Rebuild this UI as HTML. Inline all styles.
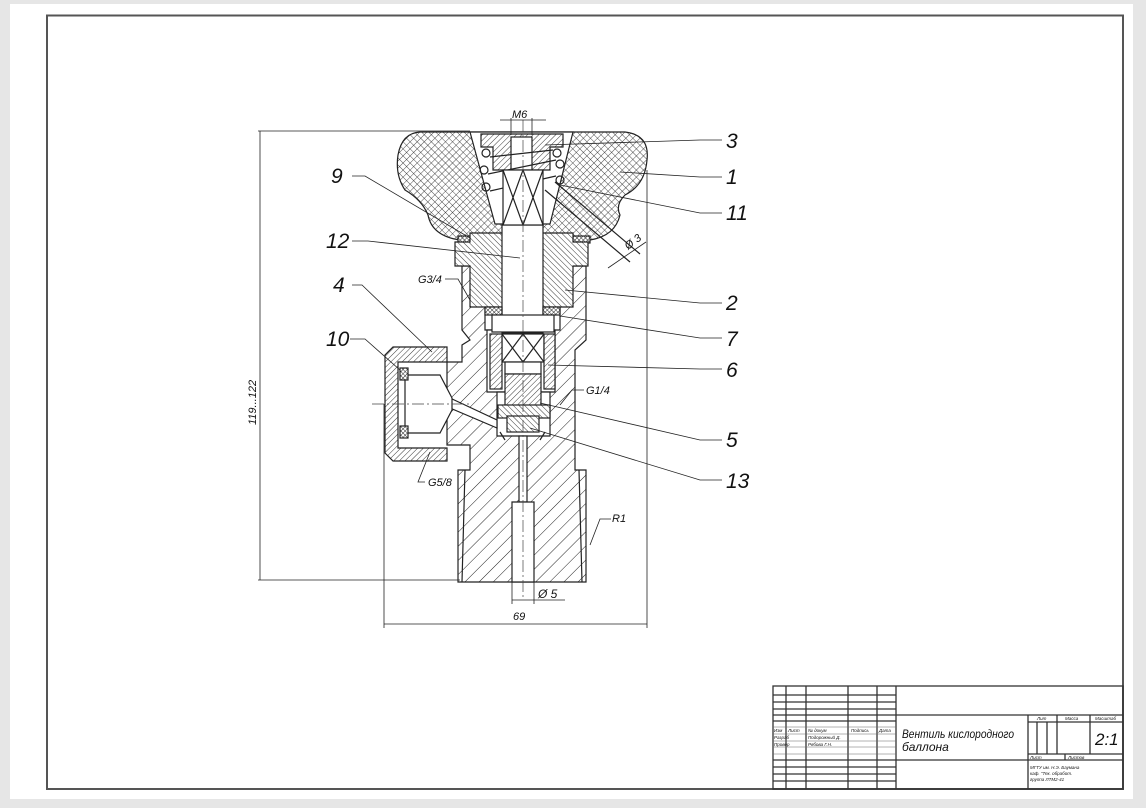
<!DOCTYPE html>
<html><head><meta charset="utf-8"><style>
html,body{margin:0;padding:0;background:#e6e6e6;}
svg{display:block;}
text{font-family:"Liberation Sans",sans-serif;font-style:italic;fill:#111;}
</style></head><body>
<svg width="1146" height="808" viewBox="0 0 1146 808" xmlns="http://www.w3.org/2000/svg">
<defs>
<pattern id="hb" width="10" height="10" patternUnits="userSpaceOnUse" patternTransform="rotate(45)"><rect width="10" height="10" fill="#fff"/><line x1="0" y1="0" x2="0" y2="10" stroke="#222" stroke-width="1"/></pattern>
<pattern id="hs" width="4" height="4" patternUnits="userSpaceOnUse" patternTransform="rotate(45)"><rect width="4" height="4" fill="#fff"/><line x1="0" y1="0" x2="0" y2="4" stroke="#222" stroke-width="0.9"/></pattern>
<pattern id="hr" width="4" height="4" patternUnits="userSpaceOnUse" patternTransform="rotate(-45)"><rect width="4" height="4" fill="#fff"/><line x1="0" y1="0" x2="0" y2="4" stroke="#222" stroke-width="0.9"/></pattern>
<pattern id="cx" width="5" height="5" patternUnits="userSpaceOnUse" patternTransform="rotate(45)"><rect width="5" height="5" fill="#fff"/><line x1="0" y1="0" x2="0" y2="5" stroke="#222" stroke-width="0.8"/><line x1="0" y1="0" x2="5" y2="0" stroke="#222" stroke-width="0.8"/></pattern>
<pattern id="cs" width="3" height="3" patternUnits="userSpaceOnUse" patternTransform="rotate(45)"><rect width="3" height="3" fill="#fff"/><line x1="0" y1="0" x2="0" y2="3" stroke="#111" stroke-width="0.9"/><line x1="0" y1="0" x2="3" y2="0" stroke="#111" stroke-width="0.9"/></pattern>
</defs>
<rect x="10" y="4" width="1123" height="795" fill="#fff"/>
<rect x="47" y="15.5" width="1076" height="773.5" fill="none" stroke="#555" stroke-width="2"/>

<g stroke="#222" stroke-width="1.2" fill="none">
<path d="M462 266 L586 266 L586 340 L575 350 L575 470 L586 470 L586 582 L458 582 L458 470 L470 470 L470 445 L447 445 L447 362 L462 362 L462 345 L470 340 L462 330 Z" fill="url(#hb)"/>
<path d="M485 266 L560 266 L560 330 L485 330 Z" fill="#fff"/>
<path d="M487 330 L555 330 L555 392 L487 392 Z" fill="#fff"/>
<path d="M497 392 L550 392 L550 436 L497 436 Z" fill="#fff"/>
<rect x="519" y="436" width="8" height="66" fill="#fff"/>
<path d="M512 502 L534 502 L534 582 L512 582 Z" fill="#fff"/>
<path d="M450 398 L497 420 L497 428 L450 408 Z" fill="#fff"/>
<path d="M405 375 L440 375 L452 398 L452 410 L440 433 L405 433 Z" fill="#fff"/>
<line x1="465" y1="470" x2="462" y2="582"/><line x1="579" y1="470" x2="582" y2="582"/>
<path d="M393 347 L447 347 L447 362 L398 362 L398 448 L447 448 L447 461 L393 461 L385 453 L385 355 Z" fill="url(#hs)"/>
<rect x="400" y="368" width="8" height="12" fill="url(#cs)"/>
<rect x="400" y="426" width="8" height="12" fill="url(#cs)"/>
<path d="M420 132 L625 132 Q650 135 647 160 Q645 185 625 195 Q615 205 620 215 Q615 236 590 240 L460 240 Q432 236 428 215 Q422 200 405 190 Q395 175 398 155 Q402 133 420 132 Z" fill="url(#cx)"/>
<path d="M470 132 L573 132 L550 224 L495 224 Z" fill="#fff"/>
<line x1="545" y1="190" x2="630" y2="262"/>
<line x1="555" y1="182" x2="640" y2="254"/>
<rect x="458" y="236" width="28" height="7" fill="url(#cs)"/>
<rect x="560" y="236" width="30" height="7" fill="url(#cs)"/>
<path d="M470 233 L573 233 L573 242 L588 242 L588 266 L573 266 L573 307 L470 307 L470 266 L455 266 L455 242 L470 242 Z" fill="url(#hr)"/>
<rect x="502" y="225" width="41" height="108" fill="#fff"/>
<rect x="485" y="307" width="17" height="8" fill="url(#cs)"/>
<rect x="543" y="307" width="17" height="8" fill="url(#cs)"/>
<rect x="492" y="315" width="62" height="17" fill="#fff"/>
<path d="M481 134 L563 134 L563 147 L550 147 L550 170 L493 170 L493 147 L481 147 Z" fill="url(#hs)"/>
<rect x="511" y="137" width="21" height="33" fill="#fff"/>
<circle cx="486" cy="153" r="4"/><circle cx="484" cy="170" r="4"/><circle cx="486" cy="187" r="4"/>
<circle cx="557" cy="153" r="4"/><circle cx="560" cy="164" r="4"/><circle cx="560" cy="180" r="4"/>
<line x1="490" y1="157" x2="553" y2="150"/><line x1="488" y1="174" x2="556" y2="160"/><line x1="490" y1="191" x2="556" y2="176"/>
<rect x="503" y="170" width="40" height="55" fill="#fff"/>
<path d="M503 170 L523 225 M523 170 L503 225 M523 170 L543 225 M543 170 L523 225"/>
<rect x="502" y="334" width="42" height="28" fill="#fff"/>
<path d="M502 334 L523 362 M523 334 L502 362 M523 334 L544 362 M544 334 L523 362"/>
<rect x="490" y="334" width="12" height="55" fill="url(#hs)"/>
<rect x="544" y="334" width="11" height="55" fill="url(#hs)"/>
<rect x="505" y="362" width="36" height="12" fill="#fff"/>
<rect x="505" y="374" width="36" height="40" fill="url(#hs)"/>
<rect x="498" y="405" width="52" height="13" fill="url(#hr)"/>
<rect x="507" y="416" width="32" height="16" fill="url(#hr)"/>
<path d="M500 432 L505 440 M545 432 L540 440"/>
</g>
<g stroke="#444" stroke-width="0.7" stroke-dasharray="12 3 2 3" fill="none">
<line x1="523" y1="120" x2="523" y2="600"/>
<line x1="372" y1="404" x2="470" y2="404"/>
</g>
<g stroke="#222" stroke-width="0.8" fill="none">
<line x1="258" y1="131" x2="470" y2="131"/>
<line x1="258" y1="580" x2="460" y2="580"/>
<line x1="260" y1="131" x2="260" y2="580"/>
<line x1="384" y1="404" x2="384" y2="628"/>
<line x1="647" y1="170" x2="647" y2="628"/>
<line x1="384" y1="624" x2="647" y2="624"/>
<line x1="512" y1="582" x2="512" y2="604"/><line x1="534" y1="582" x2="534" y2="604"/>
<line x1="512" y1="600" x2="565" y2="600"/>
<line x1="500" y1="120" x2="546" y2="120"/>
<line x1="511" y1="118" x2="511" y2="135"/><line x1="532" y1="118" x2="532" y2="135"/>
<line x1="608" y1="268" x2="646" y2="242"/>
<polyline points="545,145 700,140 722,140"/>
<polyline points="620,172 700,177 722,177"/>
<polyline points="560,185 700,213 722,213"/>
<polyline points="565,290 700,303 722,303"/>
<polyline points="560,316 700,338 722,338"/>
<polyline points="548,365 700,369 722,369"/>
<polyline points="540,403 700,440 722,440"/>
<polyline points="530,428 700,480 722,480"/>
<polyline points="352,176 365,176 470,238"/>
<polyline points="352,241 368,241 520,258"/>
<polyline points="352,285 362,285 432,352"/>
<polyline points="350,339 365,339 400,370"/>
<polyline points="445,279 458,279 470,300"/>
<polyline points="584,390 572,390 560,405"/>
<polyline points="425,482 418,482 430,452"/>
<polyline points="611,519 600,519 590,545"/>
</g>
<g font-size="21">
<text x="726" y="148">3</text><text x="726" y="184">1</text><text x="726" y="220">11</text>
<text x="726" y="310">2</text><text x="726" y="346">7</text><text x="726" y="377">6</text>
<text x="726" y="447">5</text><text x="726" y="488">13</text>
<text x="331" y="183">9</text><text x="326" y="248">12</text><text x="333" y="292">4</text><text x="326" y="346">10</text>
</g>
<g font-size="11">
<text x="512" y="118">M6</text>
<text x="418" y="283">G3/4</text>
<text x="586" y="394">G1/4</text>
<text x="428" y="486">G5/8</text>
<text x="612" y="522">R1</text>
<text x="538" y="598" font-size="12">Ø 5</text>
<text x="513" y="620">69</text>
<text transform="translate(256 425) rotate(-90)">119...122</text>
<text transform="translate(628 250) rotate(-37)">Ø 3</text>
</g>
<g stroke="#333" stroke-width="1.3" fill="none">
<rect x="773" y="686" width="350" height="103"/>
<line x1="786" y1="686" x2="786" y2="789"/><line x1="806" y1="686" x2="806" y2="789"/>
<line x1="848" y1="686" x2="848" y2="789"/><line x1="877" y1="686" x2="877" y2="789"/>
<line x1="896" y1="686" x2="896" y2="789"/>
<line x1="773" y1="695" x2="896" y2="695"/><line x1="773" y1="702" x2="896" y2="702"/>
<line x1="773" y1="709" x2="896" y2="709"/>
<line x1="773" y1="715" x2="1123" y2="715"/>
<line x1="773" y1="721" x2="896" y2="721"/>
<line x1="773" y1="760" x2="1123" y2="760"/>
<line x1="773" y1="767" x2="896" y2="767"/><line x1="773" y1="774" x2="896" y2="774"/>
<line x1="773" y1="781" x2="896" y2="781"/>
<line x1="1028" y1="715" x2="1028" y2="789"/>
<line x1="1028" y1="722" x2="1123" y2="722"/>
<line x1="1028" y1="754" x2="1123" y2="754"/>
<line x1="1057" y1="715" x2="1057" y2="754"/><line x1="1090" y1="715" x2="1090" y2="754"/>
<line x1="1037" y1="722" x2="1037" y2="754"/><line x1="1047" y1="722" x2="1047" y2="754"/>
<line x1="1065" y1="754" x2="1065" y2="760"/>
</g>
<g stroke="#666" stroke-width="0.5"><line x1="773" y1="727" x2="896" y2="727"/><line x1="773" y1="734" x2="896" y2="734"/><line x1="773" y1="741" x2="896" y2="741"/><line x1="773" y1="747" x2="896" y2="747"/><line x1="773" y1="754" x2="896" y2="754"/></g>
<g font-size="4.5" fill="#333">
<text x="774" y="732">Изм</text><text x="788" y="732">Лист</text><text x="808" y="732">№ докум</text><text x="851" y="732">Подпись</text><text x="879" y="732">Дата</text>
<text x="774" y="739">Разраб</text><text x="808" y="739">Подорожный Д.</text>
<text x="774" y="746">Провер</text><text x="808" y="746">Рябова Г.Н.</text>
<text x="1037" y="720">Лит</text><text x="1065" y="720">Масса</text><text x="1095" y="720">Масштаб</text>
<text x="1030" y="759">Лист</text><text x="1068" y="759">Листов</text>
<text x="1030" y="769">МГТУ им. Н.Э. Баумана</text><text x="1030" y="775">каф. "Тех. обработ.</text><text x="1030" y="781">группа ЛТМ2-41</text>
</g>
<text x="902" y="738" font-size="12" textLength="112" lengthAdjust="spacingAndGlyphs">Вентиль кислородного</text>
<text x="902" y="751" font-size="12">баллона</text>
<text x="1095" y="745" font-size="17">2:1</text>
</svg>
</body></html>
